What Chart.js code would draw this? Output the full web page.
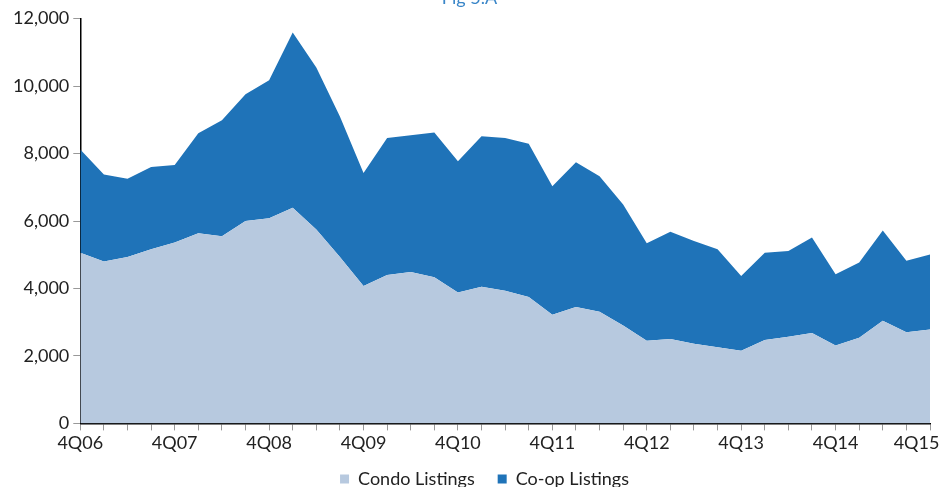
<!DOCTYPE html>
<html>
<head>
<meta charset="utf-8">
<script src="https://cdn.jsdelivr.net/npm/chart.js@4"></script>
<style>
  html, body { margin: 0; padding: 0; background: #fff; }
  #wrap { width: 939px; height: 487px; }
</style>
</head>
<body>
<div id="wrap"><canvas id="listingsChart"></canvas></div>
<script>
// quarters 4Q06 .. 4Q15
const quarters = ['4Q06',
  '1Q07', '2Q07', '3Q07', '4Q07',
  '1Q08', '2Q08', '3Q08', '4Q08',
  '1Q09', '2Q09', '3Q09', '4Q09',
  '1Q10', '2Q10', '3Q10', '4Q10',
  '1Q11', '2Q11', '3Q11', '4Q11',
  '1Q12', '2Q12', '3Q12', '4Q12',
  '1Q13', '2Q13', '3Q13', '4Q13',
  '1Q14', '2Q14', '3Q14', '4Q14',
  '1Q15', '2Q15', '3Q15', '4Q15'];

const condoListings = [5060, 4800, 4930, 5160, 5360, 5640, 5550, 6000, 6080, 6390,
  5750, 4930, 4070, 4400, 4490, 4330, 3880, 4050, 3930, 3750,
  3220, 3450, 3310, 2900, 2450, 2500, 2360, 2260, 2150, 2470,
  2570, 2680, 2310, 2540, 3040, 2700, 2780];

const totalListings = [8120, 7380, 7250, 7600, 7660, 8600, 8990, 9760, 10170, 11590,
  10550, 9100, 7420, 8460, 8540, 8620, 7770, 8510, 8460, 8290,
  7030, 7740, 7330, 6490, 5340, 5680, 5410, 5160, 4370, 5060,
  5110, 5510, 4420, 4770, 5720, 4820, 5010];

const coopListings = totalListings.map((t, i) => t - condoListings[i]);

const yTicks = [0, 2000, 4000, 6000, 8000, 10000, 12000];

const font = "Lato, 'Open Sans', sans-serif";

// legend sits a little right of the canvas centre in the original
const legendShift = {
  id: 'legendShift',
  afterLayout(chart) {
    if (chart.legend) chart.legend.left += 30;
  }
};

new Chart(document.getElementById('listingsChart'), {
  type: 'line',
  data: {
    labels: quarters,
    datasets: [{
      label: 'Condo Listings',
      data: condoListings,
      borderWidth: 0,
      pointRadius: 0,
      backgroundColor: '#b7c9df',
      borderColor: '#b7c9df',
      fill: 'origin',
      tension: 0
    }, {
      label: 'Co-op Listings',
      data: coopListings,
      borderWidth: 0,
      pointRadius: 0,
      backgroundColor: '#1f73b8',
      borderColor: '#1f73b8',
      fill: '-1',
      tension: 0
    }]
  },
  plugins: [legendShift],
  options: {
    responsive: true,
    maintainAspectRatio: false,
    animation: false,
    layout: { padding: { left: 9, right: 9, top: 0, bottom: -11 } },
    plugins: {
      title: {
        display: true,
        text: 'Fig 5.A',
        color: '#3a86c8',
        font: { family: font, size: 18, weight: 'normal' },
        padding: { top: -13, bottom: 10 }
      },
      legend: {
        position: 'bottom',
        labels: {
          color: '#222',
          font: { family: font, size: 18 },
          boxWidth: 9,
          boxHeight: 9,
          padding: 14,
          generateLabels: chart => {
            const items = Chart.defaults.plugins.legend.labels.generateLabels(chart);
            // wider gap between the two entries
            items[0].text = items[0].text + '\u2002';
            return items;
          }
        }
      },
      tooltip: { enabled: false }
    },
    scales: {
      x: {
        offset: false,
        afterFit: axis => {
          axis.paddingRight = 0;
          axis.paddingLeft = 0;
        },
        grid: {
          display: true,
          drawOnChartArea: false,
          drawTicks: true,
          tickLength: 7,
          color: '#999'
        },
        border: { color: '#000', width: 1.5 },
        ticks: {
          autoSkip: false,
          maxRotation: 0,
          color: '#222',
          font: { family: font, size: 18 },
          padding: 2,
          callback: function(v, i) {
            const q = quarters[i];
            if (!q.startsWith('4Q')) return '';
            // last label sits left of the axis end, as in the original
            return i === quarters.length - 1 ? q + '\u2002\u2002\u2002' : q;
          }
        }
      },
      y: {
        stacked: true,
        min: 0,
        max: 12000,
        afterBuildTicks: axis => { axis.ticks = yTicks.map(v => ({ value: v })); },
        grid: {
          display: true,
          drawOnChartArea: false,
          drawTicks: true,
          tickLength: 7,
          color: '#999'
        },
        border: { color: '#000', width: 1.5 },
        ticks: {
          color: '#222',
          font: { family: font, size: 18 },
          padding: 4,
          callback: v => v.toLocaleString('en-US')
        }
      }
    }
  }
});
</script>
</body>
</html>
